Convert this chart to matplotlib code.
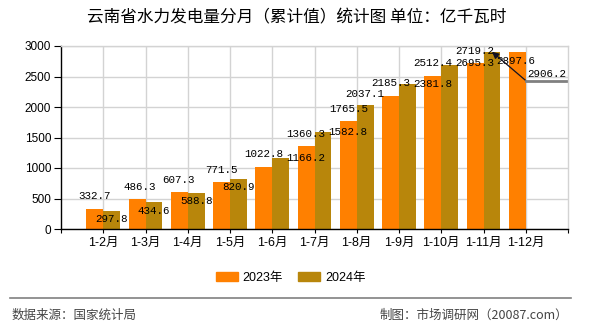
import matplotlib
matplotlib.use('Agg')
import matplotlib.pyplot as plt
from matplotlib.lines import Line2D
from matplotlib.patches import Patch
from matplotlib.transforms import IdentityTransform
import numpy as np

CJK = 'Noto Sans CJK SC'
plt.rcParams['font.family'] = ['Liberation Sans', CJK]

# ---------------- data ----------------
title = '云南省水力发电量分月（累计值）统计图 单位：亿千瓦时'
categories = ['1-2月', '1-3月', '1-4月', '1-5月', '1-6月', '1-7月',
              '1-8月', '1-9月', '1-10月', '1-11月', '1-12月']
series_names = ['2023年', '2024年']
v2023 = [332.7, 486.3, 607.3, 771.5, 1022.8, 1360.3, 1765.5, 2185.3,
         2512.4, 2719.2, 2897.6]
v2024 = [297.8, 434.6, 588.8, 820.9, 1166.2, 1582.8, 2037.1, 2381.8,
         2695.3, 2906.2, None]
yticks = [0, 500, 1000, 1500, 2000, 2500, 3000]
source_text = '数据来源：国家统计局'
credit_text = '制图：市场调研网（20087.com）'

# label offsets in pixels (dx, dy up) relative to bar top centre
off2023 = [(0, 13), (3, 12.6), (-1, 12), (0, 12), (0, 12.6), (0, 12),
           (0, 12), (0, 12.4), (0, 13), (0, 12.4), (-1.5, -8.5)]
off2024 = [(0, -8), (0, -8.5), (0, -8), (0, -8), (25, 0), (25, 0),
           (0, 10.7), (25, 0), (25, 2), None, None]
leader_index = 9  # 2024 label drawn with a leader line

C23 = '#FF8000'
C24 = '#B8860B'
GRID = '#d3d3d3'
MONO = 'Liberation Mono'
LFS = 7.8

W, H = 590, 330
fig = plt.figure(figsize=(W / 100, H / 100), dpi=100)
fig.patch.set_facecolor('white')
ax = fig.add_axes([61 / W, (H - 229) / H, 507 / W, 183 / H])

x = np.arange(len(categories))
bw = 0.4
ax.bar(x - bw / 2, v2023, bw, color=C23, zorder=2)
x24 = [xi for xi, v in zip(x, v2024) if v is not None]
y24 = [v for v in v2024 if v is not None]
ax.bar(np.array(x24) + bw / 2, y24, bw, color=C24, zorder=2)

ax.set_xlim(-1, len(categories))
ax.set_ylim(0, 3000)
ax.set_yticks(yticks)
ax.set_xticks(x)
ax.set_xticklabels(categories)
ax.set_xticks([-1, len(categories)], minor=True)
ax.tick_params(axis='y', labelsize=8.5, length=5, width=0.8, pad=2)
ax.tick_params(axis='x', which='both', labelsize=9, length=3, width=0.8, pad=3)
ax.grid(True, which='major', color=GRID, lw=1, zorder=0)
ax.set_axisbelow(True)
for s in ['left', 'bottom']:
    ax.spines[s].set_color('black')
    ax.spines[s].set_linewidth(1)
for s in ['top', 'right']:
    ax.spines[s].set_color(GRID)
    ax.spines[s].set_linewidth(1)

# value labels
for i, v in enumerate(v2023):
    dx, dy = off2023[i]
    ax.annotate(f'{v:.1f}', xy=(x[i] - bw / 2, v), xytext=(dx, dy),
                textcoords='offset pixels', ha='center', va='center',
                fontsize=LFS, family=MONO, zorder=5, annotation_clip=False)
for i, v in enumerate(v2024):
    if v is None or off2024[i] is None:
        continue
    dx, dy = off2024[i]
    ax.annotate(f'{v:.1f}', xy=(x[i] + bw / 2, v), xytext=(dx, dy),
                textcoords='offset pixels', ha='center', va='center',
                fontsize=LFS, family=MONO, zorder=5, annotation_clip=False)

# leader-line label
lv = v2024[leader_index]
lx = x[leader_index] + bw / 2
ax.annotate('', xy=(lx, lv), xytext=(34, -29), textcoords='offset pixels',
            arrowprops=dict(arrowstyle='-|>', color='#111122', lw=0.9,
                            mutation_scale=10, shrinkA=0, shrinkB=0),
            annotation_clip=False, zorder=6)
ax.annotate(f'{lv:.1f}', xy=(lx, lv), xytext=(35, -27),
            textcoords='offset pixels', ha='left', va='bottom',
            fontsize=LFS, family=MONO, zorder=6, annotation_clip=False)
p = ax.transData.transform((lx, lv))
fig.add_artist(Line2D([p[0] + 34, p[0] + 74], [p[1] - 29, p[1] - 29],
                      transform=IdentityTransform(), color='#808080', lw=2))

# title
fig.text(297 / W, 1 - 18 / H, title, ha='center', va='center',
         fontsize=12, family=[CJK, 'DejaVu Sans'])

# legend
handles = [Patch(color=C23, label=series_names[0]),
           Patch(color=C24, label=series_names[1])]
fig.legend(handles=handles, loc='center', bbox_to_anchor=(290.5 / W, 1 - 277.5 / H),
           ncol=2, frameon=False, fontsize=9, handlelength=1.76,
           handleheight=0.72, handletextpad=0.4, columnspacing=1.2)

# separator and footer
fig.add_artist(Line2D([10 / W, 571 / W], [1 - 297.7 / H] * 2,
                      transform=fig.transFigure, color='#808080', lw=1.2))
fig.text(12 / W, 1 - 315.7 / H, source_text, ha='left', va='center',
         fontsize=9, color='#444444', family=[CJK, 'DejaVu Sans'])
fig.text(568 / W, 1 - 315.7 / H, credit_text, ha='right', va='center',
         fontsize=9, color='#444444', family=[CJK, 'DejaVu Sans'])

fig.savefig('out.png', dpi=100, facecolor='white')
